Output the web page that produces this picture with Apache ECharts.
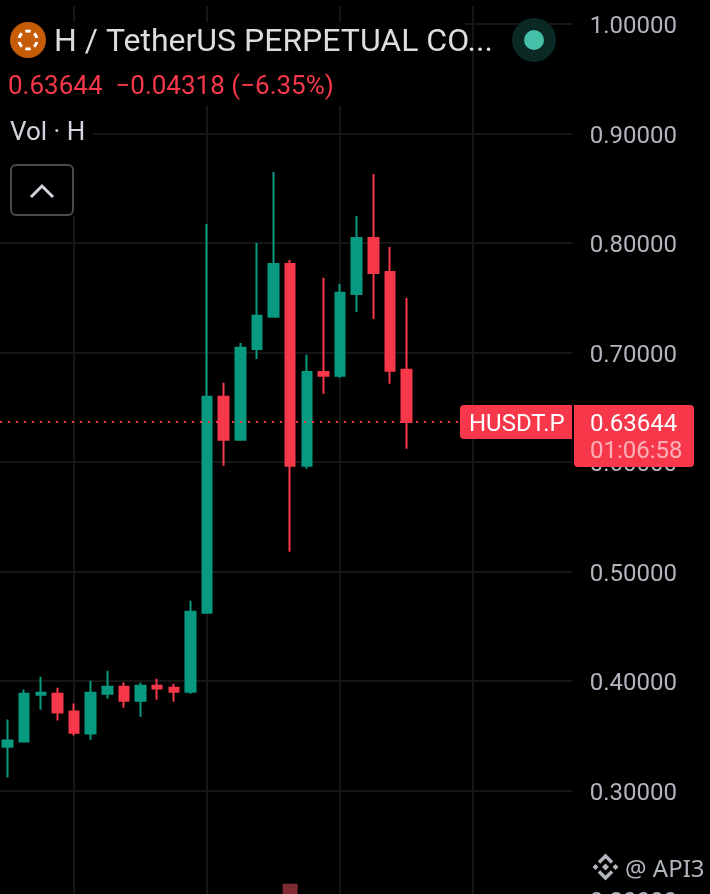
<!DOCTYPE html>
<html><head><meta charset="utf-8">
<style>html,body{margin:0;padding:0;background:#000}#c{width:710px;height:894px}</style>
<script src="https://cdn.jsdelivr.net/npm/echarts@6/dist/echarts.min.js"></script>
</head><body><div id="c"></div>
<script>
const indices = [4,5,6,7,8,9,10,11,12,13,14,15,16,17,18,19,20,21,22,23,24,25,26,27,28];
const opens  = [.3399,.3445,.3874,.3883,.3719,.3518,.3883,.3947,.3819,.3956,.3938,.3901,.4623,.6594,.6202,.7032,.7325,.7808,.5964,.6822,.6786,.7534,.8046,.7735,.6841];
const closes = [.3454,.3883,.3892,.3710,.3527,.3892,.3947,.3819,.3956,.3929,.3901,.4632,.6594,.6202,.7042,.7334,.7808,.5964,.6822,.6786,.7544,.8046,.7726,.6832,.63644];
const lows   = [.3116,.3445,.3737,.3637,.3500,.3463,.3838,.3755,.3673,.3828,.3810,.3883,.4623,.5964,.6202,.6941,.7325,.5179,.5937,.6622,.6768,.7370,.7306,.6713,.6120];
const highs  = [.3646,.3920,.4038,.3938,.3792,.4002,.4093,.3984,.3984,.4020,.3974,.4732,.8173,.6722,.7087,.8000,.8648,.7845,.6978,.7681,.7626,.8246,.8630,.7963,.7498];
const volumes = [null,null,null,null,null,null,null,null,null,null,null,null,null,null,null,null,null,1.8,null,null,null,null,null,null,null];
const lastPrice = 0.63644;
const titleText = 'H / TetherUS PERPETUAL CO...';
const changeText = '0.63644  \u22120.04318 (\u22126.35%)';

const RED='#f7384a', GREEN='#089981', FONT='Roboto';
const candles = indices.map((x,i)=>[x,opens[i],closes[i],lows[i],highs[i]]);
const chart = echarts.init(document.getElementById('c'),null,{renderer:'canvas'});
const grey='#b2b5be';
const txt=(x,y,text,size,fill,extra)=>({type:'text',x,y,z:20,style:Object.assign({text,font:size+'px '+FONT,fill,textVerticalAlign:'middle',textBaseline:'middle'},extra||{})});
const rect=(x,y,w,h,fill,r)=>({type:'rect',z:10,shape:{x,y,width:w,height:h,r:r||0},style:{fill}});
const ring=[];
for(let k=0;k<6;k++){const a=k*Math.PI/3-Math.PI/2;
  ring.push({type:'arc',z:21,shape:{cx:28,cy:40,r:9,startAngle:a-0.3,endAngle:a+0.3},style:{stroke:'#fff',fill:null,lineWidth:3}});}
const diamond=(cx,cy,r,fill)=>({type:'polygon',z:21,shape:{points:[[cx,cy-r],[cx+r,cy],[cx,cy+r],[cx-r,cy]]},style:{fill}});
const chev=(pts,w)=>({type:'polyline',z:21,shape:{points:pts},style:{stroke:grey,fill:null,lineWidth:w,lineCap:'butt',lineJoin:'miter'}});

chart.setOption({
  animation:false, backgroundColor:'#000',
  grid:{left:-59,top:6,width:631.75,height:893.8,containLabel:false,outerBoundsMode:'none'},
  xAxis:{type:'value',min:0,max:38,interval:8,
    axisLine:{show:false},axisTick:{show:false},axisLabel:{show:false},
    splitLine:{show:true,showMinLine:false,showMaxLine:false,lineStyle:{color:'#161616',width:2}}},
  yAxis:[{type:'value',position:'right',min:0.2,max:1.01643,interval:0.1,
    axisLine:{show:false},axisTick:{show:false},
    axisLabel:{show:true,showMaxLabel:false,showMinLabel:true,margin:17,color:grey,fontFamily:FONT,fontSize:24,
      verticalAlign:'top',lineHeight:7,hideOverlap:false,formatter:v=>v.toFixed(5)},
    splitLine:{show:true,showMaxLine:false,lineStyle:{color:'#161616',width:2}}},
    {type:'value',min:0,max:100,show:false,splitLine:{show:false}}],
  series:[
   {type:'bar',yAxisIndex:1,encode:{x:0,y:1},data:indices.map((x,i)=>[x,volumes[i]]),barWidth:15,
     itemStyle:{color:'#802a32'},silent:true},
   {type:'candlestick',yAxisIndex:0,encode:{x:0,y:[1,2,3,4]},data:candles,barWidth:10,
     itemStyle:{color:GREEN,color0:RED,borderColor:GREEN,borderColor0:RED,borderWidth:2},
     markLine:{symbol:'none',silent:true,animation:false,precision:5,label:{show:false},
       lineStyle:{color:RED,width:2,type:[2,6],dashOffset:5},data:[{yAxis:lastPrice}]}}
  ],
  graphic:[
    rect(0,22,465,84,'rgba(0,0,0,0.88)'),
    rect(0,106,93,110,'rgba(0,0,0,0.88)'),
    {type:'circle',z:20,shape:{cx:28,cy:40,r:18},style:{fill:'#c45c08'}},
    ...ring,
    txt(54,43,titleText,32,'#dcdde0'),
    txt(8,87.5,changeText,26,RED),
    txt(10,133,'Vol \u00b7 H',26,'#d1d4dc'),
    {type:'rect',z:20,shape:{x:11,y:165,width:62,height:50,r:5},style:{fill:'#000',stroke:'#4a4a4a',lineWidth:2}},
    {type:'polyline',z:21,shape:{points:[[31,197],[42,186],[53,197]]},style:{stroke:'#d1d4dc',fill:null,lineWidth:3}},
    {type:'circle',z:20,shape:{cx:534,cy:40,r:22},style:{fill:'#0a2824'}},
    {type:'circle',z:21,shape:{cx:534,cy:40,r:10},style:{fill:'#45bfa8'}},
    rect(460,405,112,34,RED,[4,0,0,4]),
    txt(469,425,'HUSDT.P',24,'#fff'),
    rect(574,405,120,62,RED,[0,4,4,4]),
    txt(590,425,'0.63644',24,'#fff'),
    txt(590,452,'01:06:58',24,'rgba(255,255,255,0.6)'),
    diamond(605.5,867,3.5,grey),diamond(595.5,867,3,grey),diamond(615.5,867,3,grey),
    chev([[599,862.5],[605.5,856],[612,862.5]],3.5),
    chev([[599,871.5],[605.5,878],[612,871.5]],3.5),
    txt(625,870,'@ API3',24,grey,{font:'24px "Noto Sans"'})
  ]
});
</script></body></html>
